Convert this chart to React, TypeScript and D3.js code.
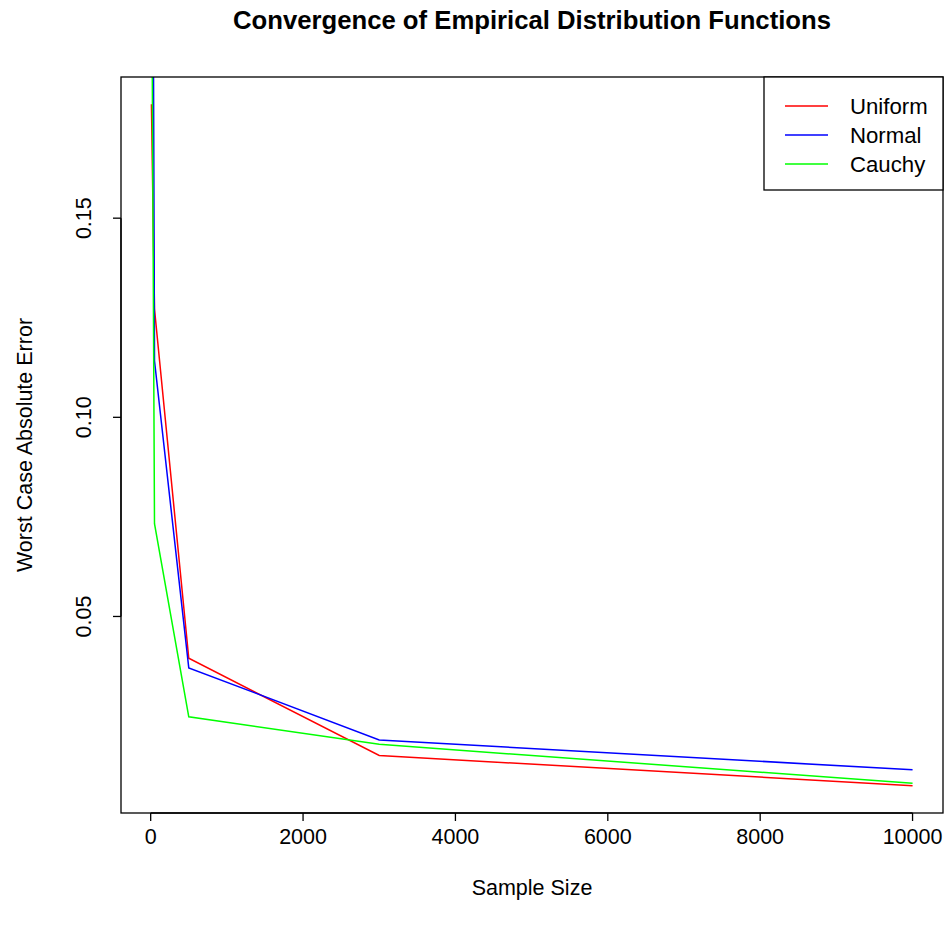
import * as d3 from 'd3'

const W = 950, H = 926
const M = { top: 77, right: 7, bottom: 113, left: 121 }

// Sample sizes and worst-case absolute error of each ECDF
const sizes = [10, 50, 500, 3000, 10000]
const uniform = [0.1786, 0.1272, 0.0395, 0.0151, 0.0075]
const normal = [0.34, 0.1142, 0.0371, 0.019, 0.0115]
const cauchy = [0.23, 0.0733, 0.0248, 0.0179, 0.0081]

const seriesNames = ['Uniform', 'Normal', 'Cauchy']
const seriesColors = ['#ff0000', '#0000ff', '#00ff00']
const seriesValues = [uniform, normal, cauchy]

const xTicks = [0, 2000, 4000, 6000, 8000, 10000]
const yTicks = [0.05, 0.1, 0.15]

const FONT = '"Liberation Sans", Arial, Helvetica, sans-serif'

// R style 4% axis extension
function ext([a, b]: number[]) {
  const d = (b - a) * 0.04
  return [a - d, b + d]
}

export default function App() {
  const x = d3.scaleLinear().domain(ext(d3.extent(sizes) as number[])).range([M.left, W - M.right])
  // ylim comes from the first series, as in plot() followed by lines()
  const y = d3.scaleLinear().domain(ext(d3.extent(uniform) as number[])).range([H - M.bottom, M.top])

  const line = d3.line<[number, number]>().x((d) => x(d[0])).y((d) => y(d[1]))
  const bottom = H - M.bottom
  const fs = 21.5

  return (
    <svg width={W} height={H} style={{ position: 'absolute', left: 0, top: 0, background: '#fff' }} fontFamily={FONT}>
      <defs>
        <clipPath id="plot">
          <rect x={M.left} y={M.top} width={W - M.left - M.right} height={H - M.top - M.bottom} />
        </clipPath>
      </defs>

      <text x={(M.left + W - M.right) / 2} y={29} textAnchor="middle" fontWeight="bold" fontSize={25.7}>
        Convergence of Empirical Distribution Functions
      </text>

      <g clipPath="url(#plot)">
        {seriesValues.map((vals, i) => (
          <path key={seriesNames[i]} d={line(sizes.map((s, j) => [s, vals[j]] as [number, number])) ?? ''}
            fill="none" stroke={seriesColors[i]} strokeWidth={1.5} />
        ))}
      </g>

      <rect x={M.left} y={M.top} width={W - M.left - M.right} height={H - M.top - M.bottom}
        fill="none" stroke="#000" strokeWidth={1.3} />

      {/* x axis */}
      <line x1={x(xTicks[0])} x2={x(xTicks[xTicks.length - 1])} y1={bottom} y2={bottom} stroke="#000" strokeWidth={1.3} />
      {xTicks.map((t) => (
        <g key={t}>
          <line x1={x(t)} x2={x(t)} y1={bottom} y2={bottom + 8} stroke="#000" strokeWidth={1.3} />
          <text x={x(t)} y={bottom + 31} textAnchor="middle" fontSize={fs}>{t}</text>
        </g>
      ))}

      {/* y axis */}
      <line x1={M.left} x2={M.left} y1={y(yTicks[0])} y2={y(yTicks[yTicks.length - 1])} stroke="#000" strokeWidth={1.3} />
      {yTicks.map((t) => (
        <g key={t}>
          <line x1={M.left - 8} x2={M.left} y1={y(t)} y2={y(t)} stroke="#000" strokeWidth={1.3} />
          <text transform={`translate(${M.left - 38},${y(t)}) rotate(-90)`} y={7.5} textAnchor="middle" fontSize={fs}>
            {d3.format('.2f')(t)}
          </text>
        </g>
      ))}

      <text x={(M.left + W - M.right) / 2} y={895} textAnchor="middle" fontSize={fs}>Sample Size</text>
      <text transform={`translate(32,${(M.top + bottom) / 2}) rotate(-90)`} textAnchor="middle" fontSize={fs}>
        Worst Case Absolute Error
      </text>

      {/* legend */}
      <rect x={764} y={M.top} width={W - M.right - 764} height={113} fill="#fff" stroke="#000" strokeWidth={1.3} />
      {seriesNames.map((n, i) => (
        <g key={n} transform={`translate(0,${106 + i * 29})`}>
          <line x1={785} x2={828} y1={0} y2={0} stroke={seriesColors[i]} strokeWidth={1.5} />
          <text x={850} y={7.5} fontSize={22.2}>{n}</text>
        </g>
      ))}
    </svg>
  )
}
